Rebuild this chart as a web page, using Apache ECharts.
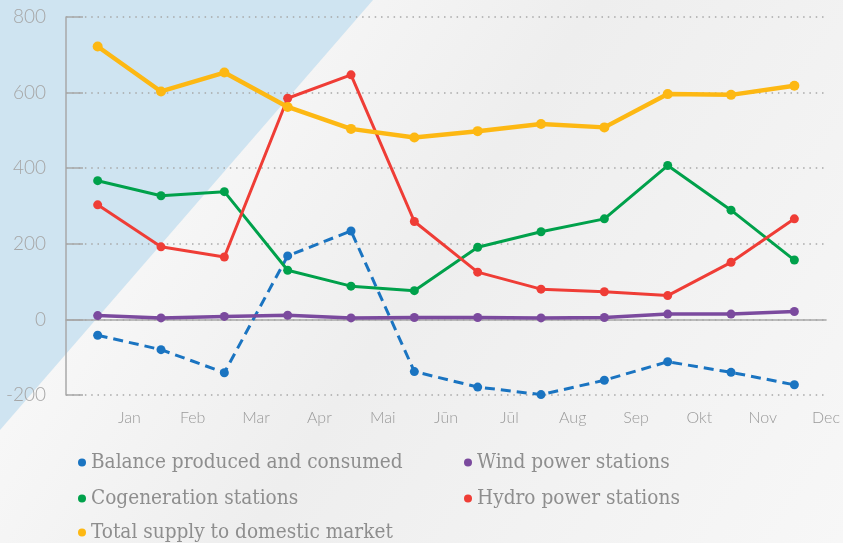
<!DOCTYPE html>
<html><head><meta charset="utf-8">
<script src="https://cdn.jsdelivr.net/npm/echarts@6/dist/echarts.min.js"></script>
<style>html,body{margin:0;padding:0;}#c{width:843px;height:543px;}</style>
</head><body><div id="c"></div>
<script>
const months = ['Jan','Feb','Mar','Apr','Mai','Jūn','Jūl','Aug','Sep','Okt','Nov','Dec'];
const tickLabels = ['', 'Jan','Feb','Mar','Apr','Mai','Jūn','Jūl','Aug','Sep','Okt','Nov','Dec'];
const yTicks = [-200, 0, 200, 400, 600, 800];
const balance = [-42, -80, -141, 168, 234, -138, -179, -199, -161, -112, -140, -173];
const wind = [10, 4, 8, 11, 4, 5, 5, 4, 5, 14, 14, 21];
const cogeneration = [367, 327, 338, 130, 88, 76, 191, 232, 266, 407, 289, 157];
const hydro = [303, 192, 165, 585, 647, 259, 125, 80, 73, 63, 151, 266];
const total = [722, 603, 653, 562, 504, 481, 498, 517, 508, 596, 594, 618];

const names = ['Balance produced and consumed','Wind power stations','Cogeneration stations','Hydro power stations','Total supply to domestic market'];
const colors = ['#1a74c1','#7b4a9e','#00a14b','#ef3d36','#fdb813'];

const chart = echarts.init(document.getElementById('c'));
const legendText = {color:'#8e8e8e', fontFamily:'DejaVu Serif Condensed', fontSize:20.6};
function mk(i, data, width, extra) {
  return Object.assign({
    name: names[i], type:'line', data: data, xAxisIndex:0, yAxisIndex:0,
    symbol:'circle', symbolSize: 9, color: colors[i],
    lineStyle:{width: width, color: colors[i]},
    itemStyle:{color: colors[i]}, animation:false
  }, extra || {});
}
function lg(i, left, top) {
  return {data:[names[i]], orient:'horizontal', left:left, top:top,
    icon:'circle', itemWidth:8, itemHeight:8, textStyle:legendText};
}
chart.setOption({
  backgroundColor: {type:'linear', x:0, y:0, x2:1, y2:1, colorStops:[
    {offset:0, color:'#ffffff'},{offset:0.5, color:'#eeeeee'},{offset:1, color:'#f7f7f7'}]},
  graphic: [{
    type:'polygon', z:-10, silent:true,
    shape:{points:[[0,0],[373,0],[0,430]]},
    style:{fill:'#cfe4f1'}
  }],
  animation:false,
  grid:{left:66, right:16, top:17, bottom:148},
  legend:[
    lg(0, 73, 447), lg(2, 73, 483), lg(4, 73, 517),
    lg(1, 459, 447), lg(3, 459, 483)
  ],
  xAxis:[
    {type:'category', data: months, boundaryGap:true,
     axisLine:{onZero:true, lineStyle:{color:'#a8a8a8', width:1.5}},
     axisTick:{inside:true, length:10, lineStyle:{color:'#a8a8a8', width:1.5}},
     axisLabel:{show:false}, splitLine:{show:false}},
    {type:'category', data: tickLabels, boundaryGap:false, position:'bottom',
     axisLine:{show:false, onZero:false}, axisTick:{show:false},
     axisLabel:{show:true, interval:0, margin:15, color:'#999999', fontFamily:'Lato', fontWeight:300, fontSize:16},
     splitLine:{show:false}}
  ],
  yAxis:{type:'value', min:yTicks[0], max:yTicks[yTicks.length-1], interval:200,
    axisLine:{show:true, lineStyle:{color:'#a8a8a8', width:1.5}},
    axisTick:{show:true, inside:true, length:17, lineStyle:{color:'#a8a8a8', width:1.5}},
    axisLabel:{margin:20, color:'#a6a6a6', fontFamily:'Lato', fontWeight:300, fontSize:19},
    splitLine:{show:true, lineStyle:{color:'#a8a8a8', width:1.5, type:[1.5,4.8]}}
  },
  series:[
    mk(0, balance, 3, {lineStyle:{width:3, color:colors[0], type:[10,6]}}),
    mk(1, wind, 3.5),
    mk(2, cogeneration, 3),
    mk(3, hydro, 3),
    mk(4, total, 4.5, {symbolSize:10})
  ]
});
</script></body></html>
